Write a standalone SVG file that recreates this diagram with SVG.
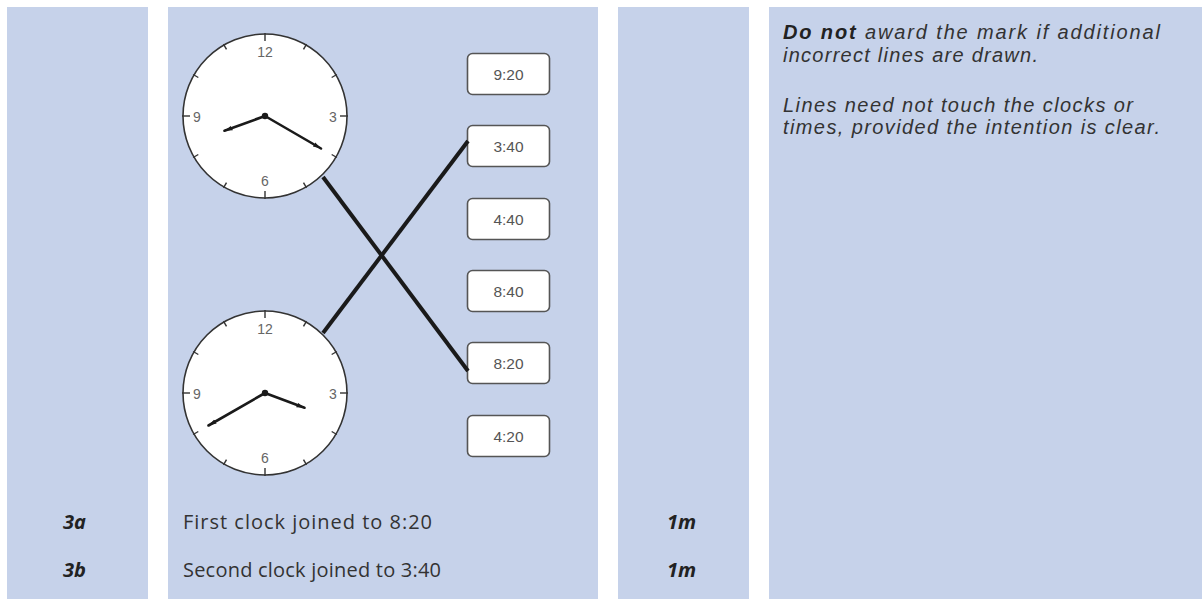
<svg xmlns="http://www.w3.org/2000/svg" xmlns:xlink="http://www.w3.org/1999/xlink" width="1202" height="599" viewBox="0 0 1202 599">
<style>
.col{fill:#c6d2ea}
.face{fill:#fff;stroke:#333;stroke-width:1.6}
.tick{stroke:#333;stroke-width:1.4}
.num{font-family:"Liberation Sans",Arial,sans-serif;font-size:14px;fill:#666;text-anchor:middle;dominant-baseline:central}
.hand{stroke:#1a1a1a;stroke-width:2.6;stroke-linecap:round;marker-end:url(#tip)}
.box{fill:#fff;stroke:#555;stroke-width:1.6}
.bt{font-family:"Liberation Sans",Arial,sans-serif;font-size:15.5px;fill:#555;text-anchor:middle;dominant-baseline:central}
.conn{stroke:#1a1a1a;stroke-width:4;fill:none}
.note{font-family:"Liberation Sans",Arial,sans-serif;font-size:20px;font-style:italic;fill:#333}
.lbl{font-family:"Open Sans","Noto Sans",sans-serif;font-size:20px;fill:#333}
.bi{font-family:"Open Sans","Noto Sans",sans-serif;font-size:20px;font-style:italic;font-weight:bold;fill:#222}
</style>
<defs>
<marker id="tip" markerUnits="userSpaceOnUse" markerWidth="10" markerHeight="8" viewBox="0 -4 10 8" refX="8" refY="0" orient="auto">
<path d="M0,-2.4 L8,0 L0,2.4 z" fill="#1a1a1a"/>
</marker>
<g id="dial">
<circle class="face" r="82"/>
<line class="tick" x1="0" y1="-83" x2="0" y2="-75"/>
<line class="tick" x1="0" y1="-83" x2="0" y2="-77" transform="rotate(30)"/>
<line class="tick" x1="0" y1="-83" x2="0" y2="-77" transform="rotate(60)"/>
<line class="tick" x1="0" y1="-83" x2="0" y2="-75" transform="rotate(90)"/>
<line class="tick" x1="0" y1="-83" x2="0" y2="-77" transform="rotate(120)"/>
<line class="tick" x1="0" y1="-83" x2="0" y2="-77" transform="rotate(150)"/>
<line class="tick" x1="0" y1="-83" x2="0" y2="-75" transform="rotate(180)"/>
<line class="tick" x1="0" y1="-83" x2="0" y2="-77" transform="rotate(210)"/>
<line class="tick" x1="0" y1="-83" x2="0" y2="-77" transform="rotate(240)"/>
<line class="tick" x1="0" y1="-83" x2="0" y2="-75" transform="rotate(270)"/>
<line class="tick" x1="0" y1="-83" x2="0" y2="-77" transform="rotate(300)"/>
<line class="tick" x1="0" y1="-83" x2="0" y2="-77" transform="rotate(330)"/>
<text class="num" x="0" y="-64">12</text>
<text class="num" x="68" y="1">3</text>
<text class="num" x="0" y="65">6</text>
<text class="num" x="-68" y="1">9</text>
</g>
</defs>
<rect class="col" x="7" y="7" width="141" height="592"/>
<rect class="col" x="168" y="7" width="430" height="592"/>
<rect class="col" x="618" y="7" width="131" height="592"/>
<rect class="col" x="769" y="7" width="433" height="592"/>
<g id="clock1" transform="translate(265,116)">
<use xlink:href="#dial"/>
<line class="hand" x1="0" y1="0" x2="-40.5" y2="14.7"/>
<line class="hand" x1="0" y1="0" x2="56" y2="32.5"/>
<circle r="3.2" fill="#1a1a1a"/>
</g>
<g id="clock2" transform="translate(265,393)">
<use xlink:href="#dial"/>
<line class="hand" x1="0" y1="0" x2="-56.5" y2="32.5"/>
<line class="hand" x1="0" y1="0" x2="39.5" y2="14.7"/>
<circle r="3.2" fill="#1a1a1a"/>
</g>
<g id="t920"><rect class="box" x="467.5" y="53.5" width="82" height="41" rx="5"/><text class="bt" x="508.5" y="74">9:20</text></g>
<g id="t340"><rect class="box" x="467.5" y="125.5" width="82" height="41" rx="5"/><text class="bt" x="508.5" y="146">3:40</text></g>
<g id="t440"><rect class="box" x="467.5" y="198.5" width="82" height="41" rx="5"/><text class="bt" x="508.5" y="219">4:40</text></g>
<g id="t840"><rect class="box" x="467.5" y="270.5" width="82" height="41" rx="5"/><text class="bt" x="508.5" y="291">8:40</text></g>
<g id="t820"><rect class="box" x="467.5" y="342.5" width="82" height="41" rx="5"/><text class="bt" x="508.5" y="363">8:20</text></g>
<g id="t420"><rect class="box" x="467.5" y="415.5" width="82" height="41" rx="5"/><text class="bt" x="508.5" y="436">4:20</text></g>
<g id="connectors">
<line class="conn" x1="323" y1="177" x2="468" y2="371"/>
<line class="conn" x1="323" y1="333" x2="468" y2="141"/>
</g>
<g id="notes">
<text class="note" x="783" y="39" textLength="377" lengthAdjust="spacing"><tspan font-weight="bold" fill="#222">Do not</tspan> award the mark if additional</text>
<text class="note" x="783" y="61.5" textLength="255" lengthAdjust="spacing">incorrect lines are drawn.</text>
<text class="note" x="783" y="111.5" textLength="350" lengthAdjust="spacing">Lines need not touch the clocks or</text>
<text class="note" x="783" y="134" textLength="377" lengthAdjust="spacing">times, provided the intention is clear.</text>
</g>
<g id="rows">
<text class="bi" x="63" y="529">3a</text>
<text class="lbl" x="183" y="529" textLength="249" lengthAdjust="spacing">First clock joined to 8:20</text>
<text class="bi" x="667" y="529">1m</text>
<text class="bi" x="63" y="577">3b</text>
<text class="lbl" x="183" y="577" textLength="258" lengthAdjust="spacing">Second clock joined to 3:40</text>
<text class="bi" x="667" y="577">1m</text>
</g>
</svg>
